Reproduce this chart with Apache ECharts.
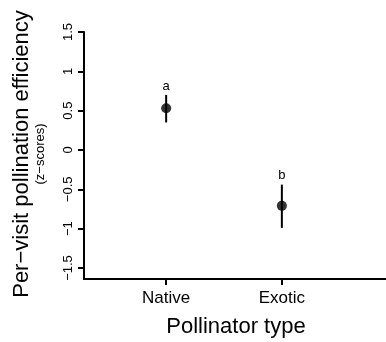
<!DOCTYPE html>
<html><head><meta charset="utf-8">
<script src="https://cdn.jsdelivr.net/npm/echarts@6/dist/echarts.min.js"></script>
<style>html,body{margin:0;padding:0;background:#fff}#c{width:386px;height:342px}</style>
</head><body><div id="c"></div>
<script>
// ---- data ----
const categories = ['Native', 'Exotic'];
const xPositions = [1, 2];
const means = [0.53, -0.71];
const lower = [0.35, -0.99];
const upper = [0.70, -0.44];
const letters = ['a', 'b'];
const yTicks = [-1.5, -1, -0.5, 0, 0.5, 1, 1.5];
const yTickLabels = ['\u22121.5', '\u22121', '\u22120.5', '0', '0.5', '1', '1.5'];
const yTitle = 'Per\u2212visit pollination efficiency';
const ySubTitle = '(z\u2212scores)';
const xTitle = 'Pollinator type';

const FONT = '"Liberation Sans", Arial, Helvetica, sans-serif';
const chart = echarts.init(document.getElementById('c'), null, {renderer: 'canvas'});

const pointData = xPositions.map((x, i) => [x, means[i]]);
const barData = xPositions.map((x, i) => [x, lower[i], upper[i], i]);

chart.setOption({
  animation: false,
  backgroundColor: '#fff',
  grid: {left: 84, top: 32, right: 0, bottom: 63, containLabel: false, outerBoundsMode: 'none'},
  xAxis: {
    type: 'value', min: 0.29, max: 2.9,
    splitLine: {show: false},
    axisLine: {show: true, onZero: false, lineStyle: {color: '#000', width: 2}},
    axisTick: {show: true, customValues: xPositions, length: 6, lineStyle: {color: '#000', width: 2}},
    axisLabel: {
      customValues: xPositions, margin: 11, fontSize: 17, fontFamily: FONT, color: '#000',
      formatter: v => categories[xPositions.indexOf(v)]
    }
  },
  yAxis: {
    type: 'value', min: -1.64, max: 1.5,
    splitLine: {show: false},
    axisLine: {show: true, onZero: false, lineStyle: {color: '#000', width: 2}},
    axisTick: {show: true, customValues: yTicks, length: 6, lineStyle: {color: '#000', width: 2}},
    axisLabel: {
      customValues: yTicks, margin: 9, fontSize: 13, fontFamily: FONT, color: '#000',
      rotate: 90, align: 'center', verticalAlign: 'bottom',
      formatter: v => yTickLabels[yTicks.indexOf(v)]
    }
  },
  series: [
    {
      type: 'custom',
      data: barData,
      encode: {x: 0, y: [1, 2]},
      z: 2,
      renderItem: (params, api) => {
        const x = api.value(0);
        const lo = api.coord([x, api.value(1)]);
        const hi = api.coord([x, api.value(2)]);
        const idx = api.value(3);
        return {
          type: 'group',
          children: [
            {type: 'line', shape: {x1: lo[0], y1: lo[1], x2: hi[0], y2: hi[1]},
             style: {stroke: '#000', lineWidth: 2}},
            {type: 'text', x: hi[0], y: hi[1] - 9,
             style: {text: letters[idx], fontSize: 13, fontFamily: FONT, fill: '#000',
                     align: 'center', verticalAlign: 'middle'}}
          ]
        };
      }
    },
    {
      type: 'scatter',
      data: pointData,
      symbol: 'circle',
      symbolSize: 10,
      itemStyle: {color: '#000'},
      z: 3
    }
  ],
  graphic: [
    {type: 'text', x: 33, y: 154, rotation: Math.PI / 2,
     style: {text: yTitle, fontSize: 22, fontFamily: FONT, fill: '#000', align: 'center', verticalAlign: 'bottom'}},
    {type: 'text', x: 47, y: 154, rotation: Math.PI / 2,
     style: {text: ySubTitle, fontSize: 13, fontFamily: FONT, fill: '#000', align: 'center', verticalAlign: 'bottom'}},
    {type: 'text', x: 236, y: 327,
     style: {text: xTitle, fontSize: 22, fontFamily: FONT, fill: '#000', align: 'center', verticalAlign: 'middle'}}
  ]
});
</script>
</body></html>
